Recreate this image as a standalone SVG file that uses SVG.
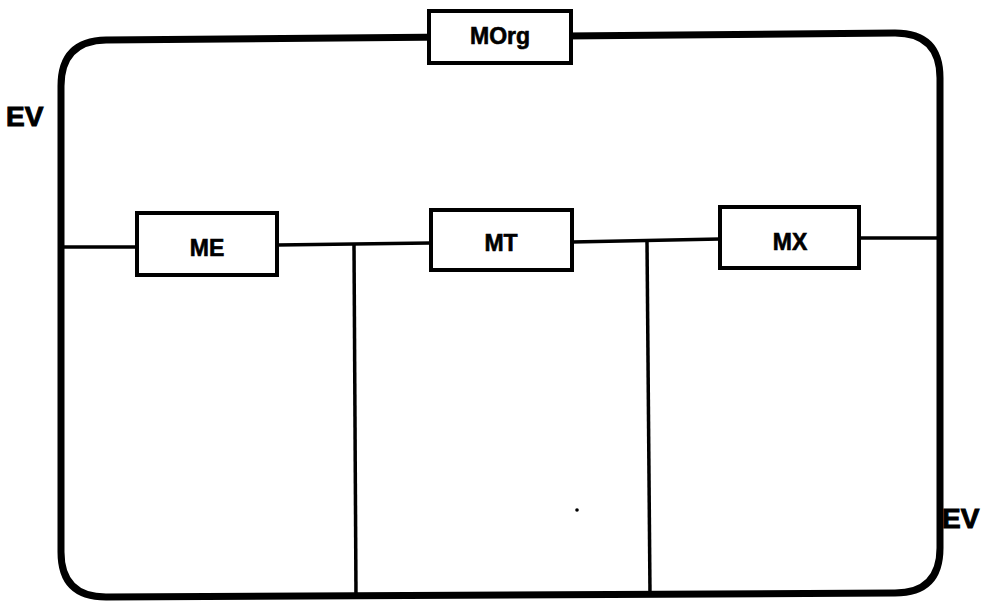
<svg xmlns="http://www.w3.org/2000/svg" width="1000" height="601" viewBox="0 0 1000 601">
  <style>
    .frame { fill: none; stroke: #000; stroke-width: 7; stroke-linejoin: round; }
    .box { fill: #fff; stroke: #000; stroke-width: 4; }
    .wire { fill: none; stroke: #000; stroke-width: 3.5; }
    .lbl { font-family: "Liberation Sans", Arial, sans-serif; font-weight: bold; font-size: 23px; text-anchor: middle; fill: #000; stroke: #000; stroke-width: 0.6; }
    .ev { font-family: "Liberation Sans", Arial, sans-serif; font-weight: bold; font-size: 28px; fill: #000; stroke: #000; stroke-width: 1; }
  </style>

  <rect width="1000" height="601" fill="#fff"/>

  <!-- outer environment loop -->
  <g id="EV-frame">
    <path class="frame" d="M 106 40 L 895 33 Q 940 33 940 78 L 940 548 Q 940 593 895 593 L 106 597 Q 61 597 61 552 L 61 86 Q 61 41 106 40 Z"/>
  </g>

  <!-- connectors -->
  <g id="connectors">
    <path class="wire" d="M 61 247 L 136 247"/>
    <path class="wire" d="M 277 245 L 430 243"/>
    <path class="wire" d="M 572 242 L 720 239"/>
    <path class="wire" d="M 859 238 L 940 238"/>
    <path class="wire" d="M 354 244 L 356 597"/>
    <path class="wire" d="M 647 241 L 650 594"/>
  </g>

  <g id="MOrg">
    <rect class="box" x="429" y="11" width="142" height="52"/>
    <text class="lbl" x="500" y="44">MOrg</text>
  </g>

  <g id="ME">
    <rect class="box" x="137" y="213" width="140" height="62"/>
    <text class="lbl" x="207" y="256">ME</text>
  </g>

  <g id="MT">
    <rect class="box" x="431" y="210" width="141" height="60"/>
    <text class="lbl" x="501" y="251">MT</text>
  </g>

  <g id="MX">
    <rect class="box" x="720" y="207" width="139" height="61"/>
    <text class="lbl" x="790" y="250">MX</text>
  </g>

  <g id="EV-labels">
    <text class="ev" x="6" y="126">EV</text>
    <text class="ev" x="942" y="528">EV</text>
  </g>

  <!-- small ink speck -->
  <circle cx="577" cy="510" r="1.8" fill="#000"/>
</svg>
